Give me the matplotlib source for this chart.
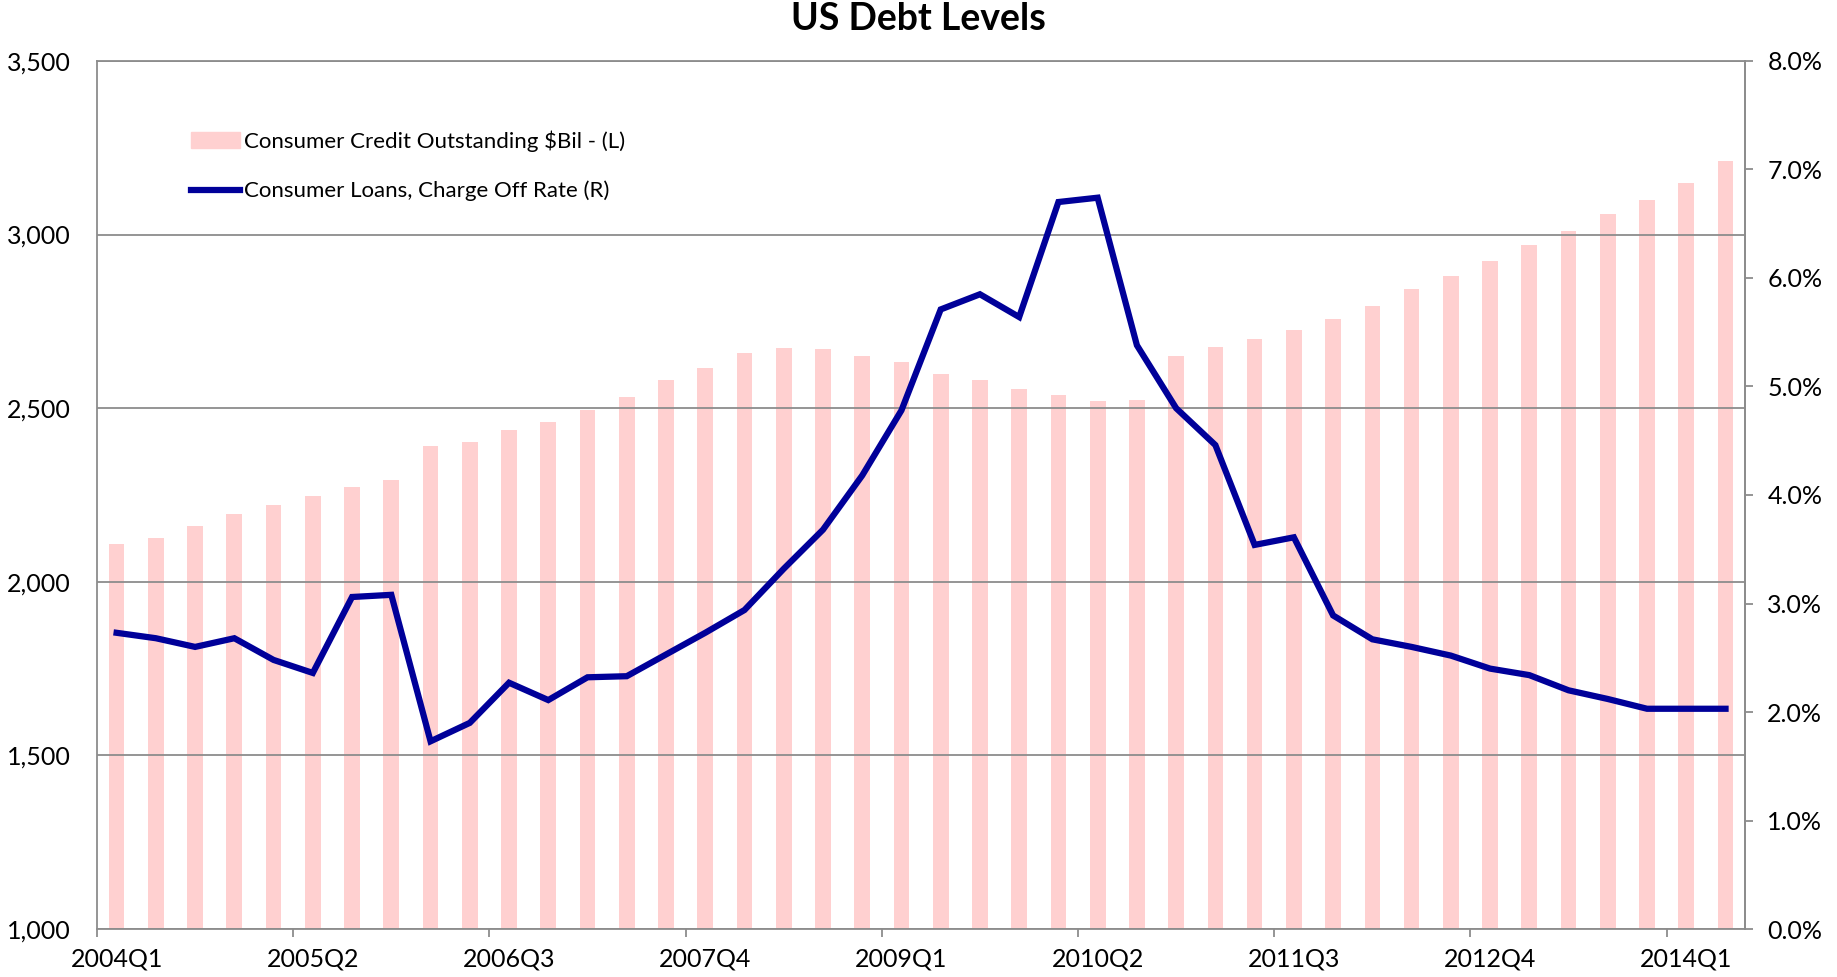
import matplotlib
matplotlib.use("Agg")
import matplotlib.pyplot as plt
import matplotlib.patches as mpatches
from matplotlib.lines import Line2D
from matplotlib.ticker import FuncFormatter, FixedLocator

plt.rcParams["font.family"] = ["Lato", "DejaVu Sans"]

# quarters 2004Q1 .. 2014Q2
quarters = [f"{y}Q{q}" for y in range(2004, 2015) for q in range(1, 5)][:42]

credit = [2110, 2127, 2161, 2194, 2221, 2248, 2272, 2292, 2390, 2404,
          2437, 2461, 2495, 2532, 2582, 2616, 2660, 2673, 2670, 2650,
          2633, 2599, 2582, 2554, 2538, 2522, 2523, 2649, 2677, 2700,
          2725, 2757, 2795, 2844, 2880, 2925, 2970, 3010, 3058, 3099,
          3148, 3212]

charge_off = [2.73, 2.68, 2.60, 2.68, 2.48, 2.36, 3.06, 3.08, 1.73, 1.90,
              2.27, 2.11, 2.32, 2.33, 2.53, 2.73, 2.94, 3.32, 3.68, 4.18,
              4.78, 5.71, 5.85, 5.64, 6.70, 6.74, 5.38, 4.80, 4.46, 3.54,
              3.61, 2.89, 2.67, 2.60, 2.52, 2.40, 2.34, 2.20, 2.12, 2.03,
              2.03, 2.03]

bar_col = "#FFD0D0"
line_col = "#000099"
grid_col = "#8C8C8C"
txt_col = "#000000"

fig = plt.figure(figsize=(18.37, 9.77), dpi=100)
ax = fig.add_axes([0.0528, 0.0491, 0.8972, 0.8885])
x = list(range(len(quarters)))

ax.bar(x, credit, width=0.4, color=bar_col, zorder=2)
ax.set_ylim(1000, 3500)
ax.set_xlim(-0.5, len(quarters) - 0.5)
ax.set_yticks([1000, 1500, 2000, 2500, 3000, 3500])
ax.yaxis.set_major_formatter(FuncFormatter(lambda v, p: f"{v:,.0f}"))
ax.grid(axis="y", color=grid_col, linewidth=1.3, zorder=3)
ax.set_axisbelow(False)
ax.tick_params(axis="y", length=0, pad=19, labelsize=18, colors=txt_col)

# x labels every 5 quarters, ticks at category boundaries
lab_pos = x[::5]
ax.set_xticks(lab_pos)
ax.set_xticklabels([quarters[i] for i in lab_pos])
ax.xaxis.set_minor_locator(FixedLocator([i - 0.5 for i in lab_pos]))
ax.tick_params(axis="x", which="major", length=0, pad=13, labelsize=18)
ax.tick_params(axis="x", which="minor", length=6, width=1.3, color=grid_col)

for sp in ax.spines.values():
    sp.set_color(grid_col)
    sp.set_linewidth(1.3)

ax2 = ax.twinx()
ax2.plot(x, charge_off, color=line_col, linewidth=4.5, zorder=5,
         solid_joinstyle="miter")
ax2.set_ylim(0, 8)
ax2.set_yticks(range(0, 9))
ax2.yaxis.set_major_formatter(FuncFormatter(lambda v, p: f"{v:.1f}%"))
ax2.tick_params(axis="y", length=6, width=1.3, color=grid_col, pad=10,
                labelsize=18, colors=txt_col)
for sp in ax2.spines.values():
    sp.set_visible(False)
ax2.spines["right"].set_visible(True)
ax2.spines["right"].set_color(grid_col)
ax2.spines["right"].set_linewidth(1.3)

handles = [mpatches.Patch(color=bar_col, label="Consumer Credit Outstanding $Bil - (L)"),
           Line2D([], [], color=line_col, linewidth=4.5,
                  label="Consumer Loans, Charge Off Rate (R)")]
ax2.legend(handles=handles, loc="upper left", bbox_to_anchor=(0.045, 0.943),
           frameon=False, fontsize=16, handlelength=2.2, handletextpad=0.2,
           labelspacing=1.3)

fig.suptitle("US Debt Levels", fontsize=27, fontweight="bold", y=0.998)

fig.savefig("out.png", dpi=100, facecolor="white")
